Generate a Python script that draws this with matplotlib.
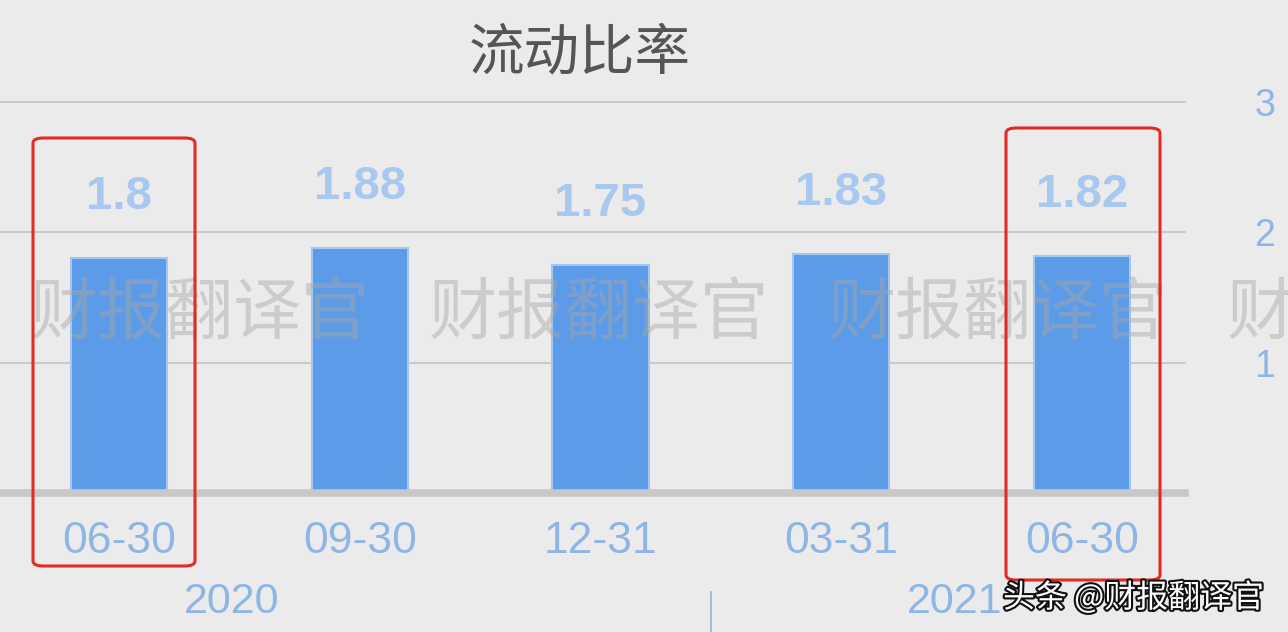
import matplotlib
matplotlib.use("Agg")
import matplotlib.pyplot as plt
from matplotlib.patches import FancyBboxPatch
import matplotlib.patheffects as pe

plt.rcParams['font.family'] = ['Noto Sans CJK SC', 'DejaVu Sans']

# ---- data ----
title = "流动比率"
quarters = ["06-30", "09-30", "12-31", "03-31", "06-30"]
values = [1.80, 1.88, 1.75, 1.83, 1.82]
value_labels = ["1.8", "1.88", "1.75", "1.83", "1.82"]
years = ["2020", "2021"]
year_pos = [0.47, 3.47]
year_sep = [2.46]
yticks = [1, 2, 3]
watermark = "财报翻译官"
corner_mark = "头条 @财报翻译官"

BG = "#ebebeb"
BAR = "#5b9be8"
BAR_EDGE = "#a3c7f0"
LABEL = "#a9c8ef"
TICK = "#8fb5e6"
GRID = "#c4c4c4"
NUMFONT = ["Liberation Sans", "DejaVu Sans"]

W, H = 1288, 632
fig = plt.figure(figsize=(W / 100, H / 100), dpi=100, facecolor=BG)

def fx(px):
    return px / W

def fy(py):
    return 1 - py / H

ax_left, ax_right = 0, 1185
ax_bottom, ax_top = 493, 102
ax = fig.add_axes([fx(ax_left), fy(ax_bottom), fx(ax_right - ax_left), fy(ax_top) - fy(ax_bottom)])
ax.set_facecolor(BG)
ax.patch.set_alpha(0)

x = list(range(len(values)))
ax.bar(x, values, width=0.4, color=BAR, edgecolor=BAR_EDGE, linewidth=1.5, zorder=2)
ax.set_xlim(-0.494, 4.428)
ax.set_ylim(0, 3)

for xi, v, lab in zip(x, values, value_labels):
    ax.annotate(lab, (xi, v), xytext=(0, 44), textcoords="offset points",
                ha="center", va="center", fontsize=34, fontweight="bold",
                color=LABEL, family=NUMFONT)

# grid & baseline
for yt in yticks:
    ax.axhline(yt, color=GRID, lw=1.2, zorder=1, clip_on=False)
ax.axhline(0, color="#c8c8c8", lw=5.5, zorder=3, clip_on=False)

for s in ax.spines.values():
    s.set_visible(False)

ax.set_xticks(x)
ax.set_xticklabels(quarters, fontsize=32, color=TICK, family=NUMFONT)
ax.tick_params(axis="x", length=0, pad=20)

ax.yaxis.tick_right()
ax.set_yticks(yticks)
ax.set_yticklabels([str(t) for t in yticks], fontsize=27, color=TICK, family=NUMFONT)
ax.tick_params(axis="y", length=0, pad=50)

# year labels and separator
xt = ax.get_xaxis_transform()
for yp, yl in zip(year_pos, years):
    ax.text(yp, -0.279, yl, transform=xt, ha="center", va="center",
            fontsize=31, color=TICK, family=NUMFONT, clip_on=False)
for sp in year_sep:
    ax.plot([sp, sp], [-0.253, -0.36], transform=xt, color=TICK, lw=1.2, clip_on=False)

# title
fig.text(fx(580), fy(54), title, ha="center", va="center", fontsize=40, color="#555555")

# background watermark
for start in [30, 429, 828, 1227]:
    fig.text(fx(start), fy(315), watermark, ha="left", va="center", fontsize=49,
             fontweight="light", color="#a8a8a8", alpha=0.45, zorder=10)

# red highlight boxes
for (x0, x1, y0, y1) in [(33, 195, 138, 566), (1006, 1160, 128, 580)]:
    box = FancyBboxPatch((fx(x0), fy(y1)), fx(x1 - x0), fy(y0) - fy(y1),
                         boxstyle="round,pad=0,rounding_size=0.008",
                         transform=fig.transFigure, fill=False,
                         edgecolor="#e42a22", linewidth=2.2, zorder=20)
    fig.add_artist(box)

# corner watermark
fig.text(fx(1003), fy(598), corner_mark, ha="left", va="center", fontsize=23,
         color="white", zorder=30,
         path_effects=[pe.withStroke(linewidth=3, foreground="#111111")])

fig.savefig("out.png", dpi=100, facecolor=BG)
